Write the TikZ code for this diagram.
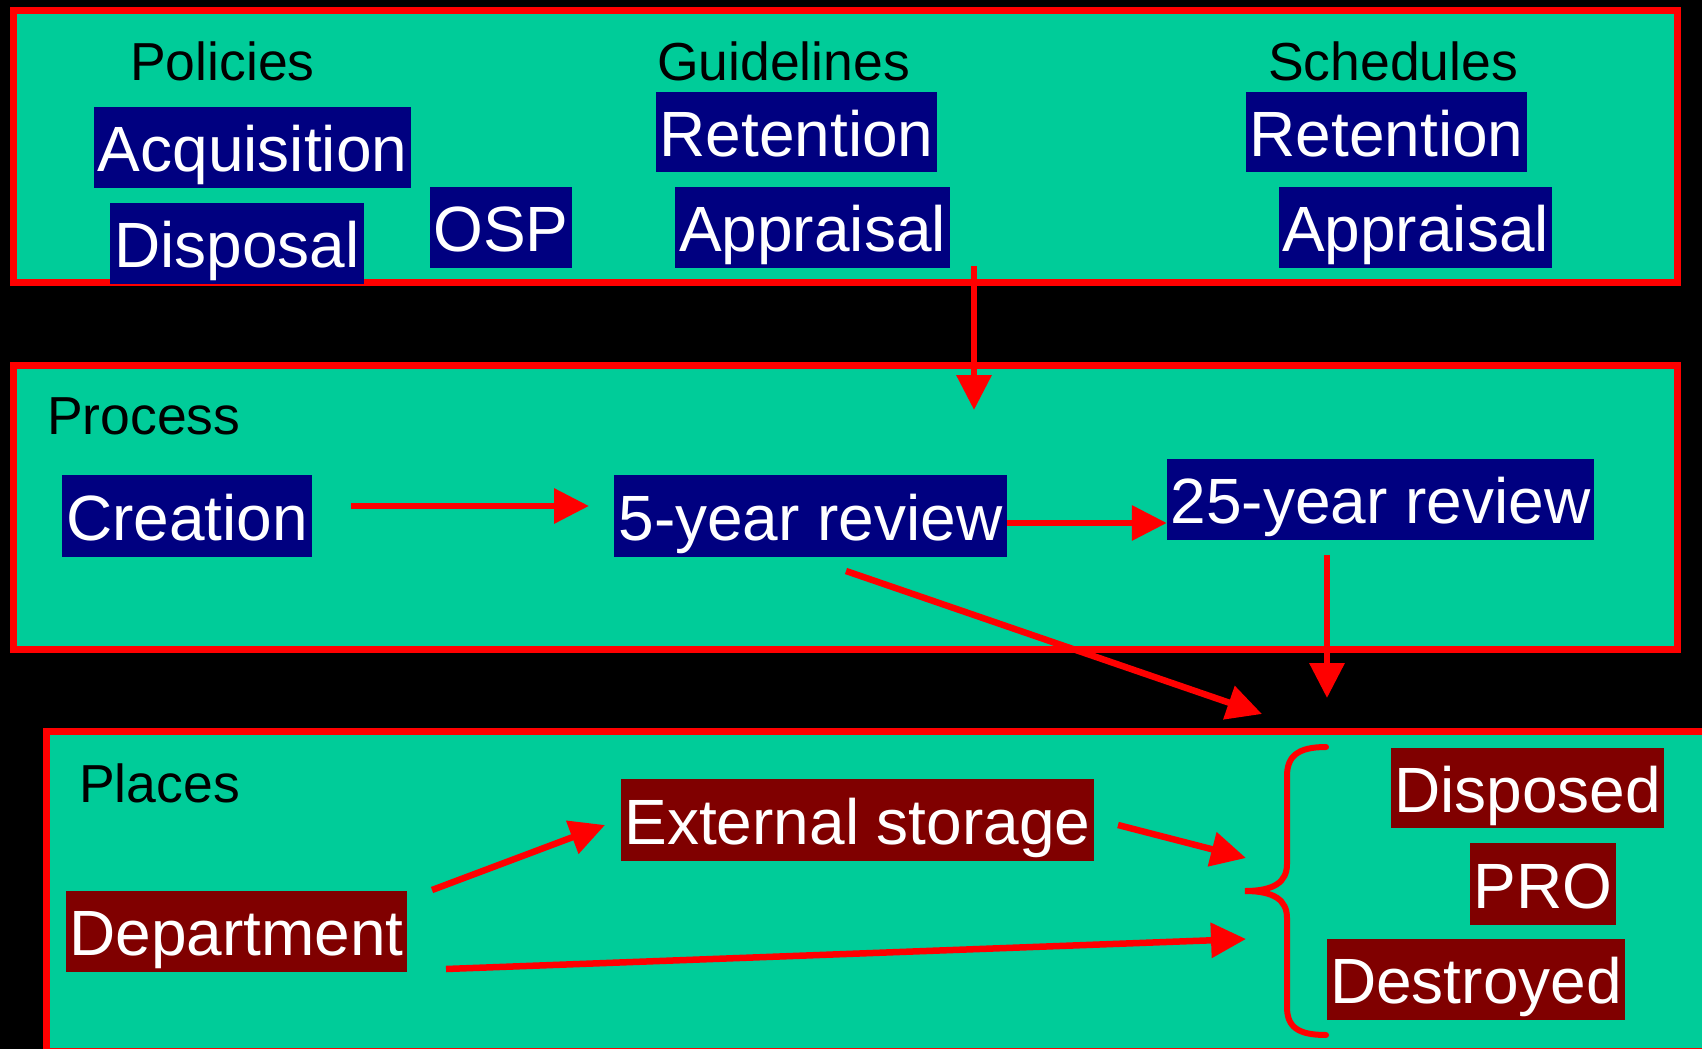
\documentclass[tikz,border=0pt]{standalone}
\usepackage{fontspec}
\setmainfont{Liberation Sans}
\usetikzlibrary{arrows.meta}
\definecolor{panelteal}{HTML}{00CC99}
\definecolor{navyb}{HTML}{000080}
\definecolor{maroonb}{HTML}{800000}
\begin{document}
\begin{tikzpicture}[x=1pt,y=-1pt,
  panel/.style={fill=panelteal, draw=red, line width=7pt},
  nb/.style={fill=navyb, text=white, inner sep=0pt, font=\fontsize{64}{72}\selectfont, text height=48pt, text depth=0pt},
  mb/.style={nb, fill=maroonb},
  lbl/.style={anchor=base west, inner sep=0pt, font=\fontsize{53.5}{60}\selectfont, text=black},
  arr/.style={draw=red, line width=6.5pt, -{Triangle[length=35pt,width=34pt]}},
  bracestyle/.style={draw=red, line width=6pt, line cap=round}]
\useasboundingbox (0,0) rectangle (1702,1049);
\fill[black] (0,0) rectangle (1702,1049);
\clip (0,0) rectangle (1702,1049);

% panels
\draw[panel] (13,11) rectangle (1677,282);
\draw[panel] (13,365) rectangle (1677,649);
\draw[panel] (46,731) rectangle (1740,1051);

% panel 1
\node[lbl] (pol) at (130,81) {Policies};
\node[lbl] (gui) at (657,81) {Guidelines};
\node[lbl] (sch) at (1268,81) {Schedules};
\node[nb, minimum width=317pt, minimum height=81pt] (acq) at (252.5,147.5) {Acquisition};
\node[nb, minimum width=254pt, minimum height=81pt] (dispol) at (237,243.5) {Disposal};
\node[nb, minimum width=142pt, minimum height=81pt] (osp) at (501,227.5) {OSP};
\node[nb, minimum width=281pt, minimum height=80pt] (gret) at (796.5,132) {Retention};
\node[nb, minimum width=275pt, minimum height=81pt] (gapp) at (812.5,227.5) {Appraisal};
\node[nb, minimum width=281pt, minimum height=80pt] (sret) at (1386.5,132) {Retention};
\node[nb, minimum width=273pt, minimum height=81pt] (sapp) at (1415.5,227.5) {Appraisal};

% panel 2
\node[lbl] (proc) at (47,434) {Process};
\node[nb, minimum width=250pt, minimum height=82pt] (creation) at (187,516) {Creation};
\node[nb, minimum width=393pt, minimum height=82pt] (five) at (810.5,516) {5-year review};
\node[nb, minimum width=427pt, minimum height=81pt] (twentyfive) at (1380.5,499.5) {25-year review};

% panel 3
\node[lbl] (places) at (79,802) {Places};
\node[mb, minimum width=473pt, minimum height=82pt] (ext) at (857.5,820) {External storage};
\node[mb, minimum width=341pt, minimum height=81pt] (dept) at (236.5,931.5) {Department};
\node[mb, minimum width=273pt, minimum height=80pt] (disposed) at (1527.5,788) {Disposed};
\node[mb, minimum width=146pt, minimum height=82pt] (pro) at (1543,884) {PRO};
\node[mb, minimum width=298pt, minimum height=81pt] (destroyed) at (1476,979.5) {Destroyed};

% brace
\draw[bracestyle] (1326,747) .. controls (1298,747) and (1287,756) .. (1287,776)
  -- (1287,864) .. controls (1287,882) and (1274,891) .. (1245,891)
  .. controls (1274,891) and (1287,900) .. (1287,918)
  -- (1287,1007) .. controls (1287,1027) and (1298,1035) .. (1326,1035);

% free ends of connectors
\coordinate (topout) at (974,266);
\coordinate (procin) at (974,410);
\coordinate (creout) at (351,506);
\coordinate (fivein) at (589,506);
\coordinate (fiveout) at (846,571);
\coordinate (placesin) at (1262,714);
\coordinate (tfout) at (1327,555);
\coordinate (tfin) at (1327,698);
\coordinate (deptout1) at (432,890);
\coordinate (extin) at (605,825);
\coordinate (extout) at (1118,825);
\coordinate (bracein1) at (1246,858);
\coordinate (deptout2) at (446,969);
\coordinate (bracein2) at (1246,939);

% connectors
\draw[arr] (topout) -- (procin);
\draw[arr] (creout) -- (fivein);
\draw[arr] (five.east |- 0,523) -- (twentyfive.west |- 0,523);
\draw[arr] (fiveout) -- (placesin);
\draw[arr] (tfout) -- (tfin);
\draw[arr] (deptout1) -- (extin);
\draw[arr] (extout) -- (bracein1);
\draw[arr] (deptout2) -- (bracein2);
\end{tikzpicture}
\end{document}
